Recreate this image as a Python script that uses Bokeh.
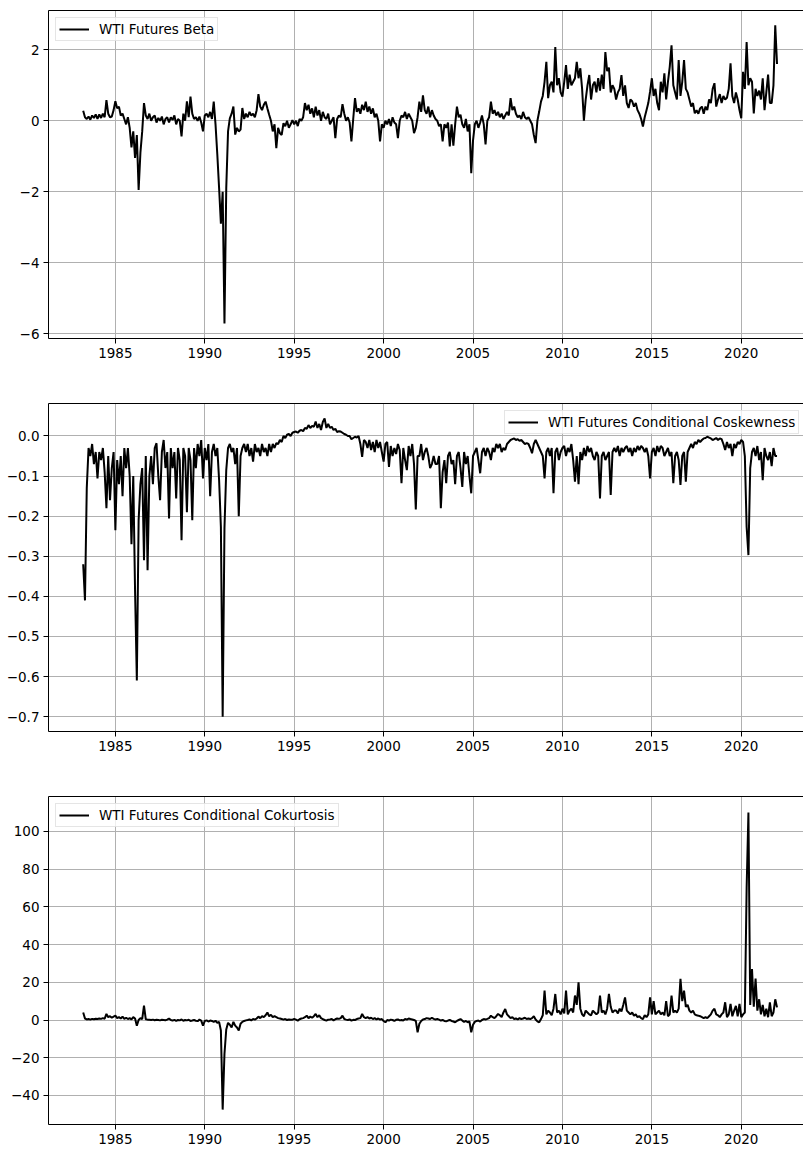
import numpy as np
from bokeh.plotting import figure
from bokeh.layouts import column
from bokeh.models import (Range1d, FixedTicker, CustomJSTickFormatter, LinearAxis,
                          Legend, LegendItem)
from bokeh.embed import file_html
from bokeh.resources import INLINE

# observations every 0.1 year, 1983.2 .. 2022.0
start_year = 1983.2
step = 0.1

beta = [
    0.28, 0.10, 0.05, 0.12, 0.03, 0.15, 0.08, 0.18,                      # 1983
    0.05, 0.18, 0.08, 0.20, 0.10, 0.58, 0.20, 0.10, 0.12, 0.30,          # 1984
    0.55, 0.35, 0.40, 0.15, 0.20, 0.05, -0.10, 0.10, -0.20, -0.75,       # 1985
    -0.30, -1.05, -0.40, -1.95, -0.90, -0.30, 0.50, 0.15, 0.05, 0.20,    # 1986
    0.00, 0.10, 0.15, -0.05, 0.08, 0.00, 0.12, -0.10, 0.05, 0.10,        # 1987
    -0.05, 0.10, 0.02, 0.15, -0.10, 0.05, 0.00, -0.44, 0.20, 0.00,       # 1988
    0.55, 0.10, 0.68, 0.20, 0.05, 0.10, 0.00, 0.12, -0.05, -0.30,        # 1989
    0.15, 0.20, 0.10, 0.25, 0.05, 0.54, -0.10, -0.95, -1.90, -2.90,      # 1990
    -2.00, -5.72, -1.90, -0.30, 0.07, 0.20, 0.40, -0.39, -0.20, -0.30,   # 1991
    -0.25, 0.36, 0.05, 0.20, 0.10, 0.25, 0.15, 0.20, 0.10, 0.30,         # 1992
    0.75, 0.40, 0.30, 0.45, 0.54, 0.35, 0.17, 0.00, -0.30, -0.10,        # 1993
    -0.77, -0.20, -0.35, -0.40, -0.07, -0.15, 0.00, -0.20, -0.10, 0.02,  # 1994
    -0.10, 0.00, -0.15, 0.05, 0.00, 0.10, 0.50, 0.30, 0.45, 0.20,        # 1995
    0.35, 0.10, 0.40, 0.15, 0.30, 0.00, 0.25, 0.10, 0.05, 0.20,          # 1996
    -0.10, 0.00, 0.10, -0.49, 0.05, 0.15, 0.10, 0.47, 0.20, 0.00,        # 1997
    0.10, -0.05, -0.58, 0.05, 0.64, 0.25, 0.35, 0.20, 0.45, 0.30,        # 1998
    0.54, 0.25, 0.40, 0.20, 0.35, 0.10, 0.20, 0.00, -0.58, -0.10,        # 1999
    -0.20, 0.00, -0.10, 0.05, -0.15, 0.10, -0.05, -0.10, -0.49, 0.00,    # 2000
    0.15, 0.10, 0.25, 0.05, 0.20, 0.10, 0.00, -0.35, -0.20, 0.10,        # 2001
    0.54, 0.25, 0.72, 0.30, 0.20, 0.40, 0.10, 0.30, 0.15, 0.05,          # 2002
    0.00, -0.15, -0.10, -0.58, -0.10, -0.20, -0.05, -0.72, -0.10, -0.70, # 2003
    -0.10, 0.40, 0.10, 0.17, -0.10, -0.20, 0.05, -0.30, -0.10, -1.48,    # 2004
    -0.55, -0.10, 0.00, -0.20, -0.05, 0.15, -0.10, -0.67, 0.00, 0.10,    # 2005
    0.54, 0.20, 0.30, 0.15, 0.25, 0.10, 0.20, 0.05, 0.15, 0.25,          # 2006
    0.15, 0.64, 0.30, 0.40, 0.20, 0.10, 0.15, 0.05, 0.25, 0.10,          # 2007
    0.05, 0.10, 0.00, -0.10, -0.40, -0.63, 0.00, 0.26, 0.54, 0.70,       # 2008
    1.10, 1.66, 0.64, 1.00, 1.10, 0.80, 2.08, 1.00, 1.20, 0.80,          # 2009
    0.68, 1.10, 1.57, 0.90, 1.30, 1.00, 1.10, 1.20, 1.66, 1.20,          # 2010
    1.48, 0.90, 0.00, 0.60, 1.00, 1.29, 0.60, 1.00, 1.10, 0.80,          # 2011
    1.20, 0.85, 1.30, 0.90, 1.94, 1.40, 1.50, 0.80, 1.00, 0.90,          # 2012
    0.60, 0.80, 0.90, 1.29, 0.70, 1.00, 0.50, 0.36, 0.60, 0.55,          # 2013
    0.40, 0.50, 0.30, 0.20, 0.05, -0.16, 0.10, 0.30, 0.50, 0.82,         # 2014
    1.20, 0.70, 0.90, 0.50, 0.30, 1.10, 0.80, 1.34, 0.60, 1.10,          # 2015
    1.52, 2.13, 1.00, 0.80, 0.60, 1.71, 0.70, 1.10, 1.71, 0.90,          # 2016
    0.80, 0.60, 0.40, 0.50, 0.21, 0.30, 0.20, 0.35, 0.40, 0.20,          # 2017
    0.40, 0.30, 0.60, 0.50, 0.90, 1.06, 0.40, 0.60, 0.75, 0.50,          # 2018
    0.70, 0.60, 0.65, 0.90, 1.62, 0.70, 0.50, 0.80, 0.60, 0.30,          # 2019
    0.07, 1.38, 0.90, 2.22, 1.00, 1.20, 1.10, 0.21, 0.90, 0.70,          # 2020
    0.85, 0.60, 1.20, 0.30, 0.80, 1.30, 0.50, 0.50, 1.00, 2.69,          # 2021
    1.60,                                                                # 2022
]

coskew = [
    -0.32, -0.41, -0.13, -0.03, -0.05, -0.02, -0.07, -0.04,                        # 1983
    -0.106, -0.04, -0.06, -0.03, -0.09, -0.18, -0.05, -0.16, -0.08, -0.04,         # 1984
    -0.235, -0.06, -0.12, -0.05, -0.15, -0.03, -0.08, -0.03, -0.10, -0.27,         # 1985
    -0.10, -0.385, -0.61, -0.21, -0.12, -0.08, -0.31, -0.05, -0.335, -0.10,        # 1986
    -0.05, -0.12, -0.03, -0.018, -0.10, -0.16, -0.04, -0.01, -0.08, -0.04,         # 1987
    -0.206, -0.03, -0.08, -0.04, -0.156, -0.03, -0.06, -0.26, -0.03, -0.05,        # 1988
    -0.19, -0.03, -0.06, -0.21, -0.03, -0.08, -0.02, -0.05, -0.01, -0.106,         # 1989
    -0.03, -0.06, -0.02, -0.15, -0.04, -0.02, -0.05, -0.03, -0.11, -0.227,         # 1990
    -0.70, -0.23, -0.085, -0.03, -0.02, -0.04, -0.03, -0.07, -0.03, -0.20,         # 1991
    -0.05, -0.03, -0.02, -0.04, -0.02, -0.05, -0.03, -0.064, -0.02, -0.04,         # 1992
    -0.03, -0.05, -0.02, -0.04, -0.03, -0.05, -0.02, -0.04, -0.02, -0.03,          # 1993
    -0.018, -0.02, -0.01, -0.015, 0.0, -0.005, 0.003, 0.005, 0.0, 0.008,           # 1994
    0.010, 0.011, 0.008, 0.013, 0.015, 0.012, 0.020, 0.018, 0.027, 0.020,          # 1995
    0.025, 0.023, 0.036, 0.020, 0.030, 0.015, 0.035, 0.044, 0.020, 0.030,          # 1996
    0.020, 0.023, 0.015, 0.018, 0.010, 0.012, 0.011, 0.008, 0.005, 0.003,          # 1997
    0.0, 0.0, -0.008, -0.005, -0.002, -0.004, 0.0, -0.02, -0.052, -0.01,           # 1998
    -0.015, -0.03, -0.01, -0.035, -0.015, -0.04, -0.01, -0.03, -0.015, -0.04,      # 1999
    -0.064, -0.02, -0.015, -0.077, -0.025, -0.05, -0.03, -0.045, -0.02, -0.035,    # 2000
    -0.118, -0.03, -0.06, -0.085, -0.025, -0.05, -0.02, -0.07, -0.183, -0.05,      # 2001
    -0.05, -0.02, -0.06, -0.04, -0.03, -0.05, -0.08, -0.07, -0.05, -0.07,          # 2002
    -0.07, -0.05, -0.18, -0.09, -0.06, -0.118, -0.05, -0.04, -0.07, -0.06,         # 2003
    -0.12, -0.05, -0.04, -0.08, -0.127, -0.04, -0.07, -0.05, -0.10, -0.143,        # 2004
    -0.05, -0.04, -0.03, -0.06, -0.093, -0.04, -0.03, -0.05, -0.03, -0.04,         # 2005
    -0.06, -0.03, -0.04, -0.02, -0.03, -0.02, -0.04, -0.03, -0.035, -0.02,         # 2006
    -0.015, -0.01, -0.008, -0.006, -0.01, -0.008, -0.012, -0.01, -0.015, -0.02,    # 2007
    -0.018, -0.02, -0.03, -0.043, -0.02, -0.01, -0.02, -0.03, -0.04, -0.05,        # 2008
    -0.106, -0.04, -0.03, -0.05, -0.03, -0.143, -0.04, -0.03, -0.06, -0.04,        # 2009
    -0.03, -0.025, -0.05, -0.03, -0.04, -0.02, -0.06, -0.114, -0.05, -0.12,        # 2010
    -0.04, -0.06, -0.03, -0.05, -0.025, -0.04, -0.03, -0.05, -0.06, -0.04,         # 2011
    -0.05, -0.156, -0.05, -0.04, -0.06, -0.05, -0.04, -0.147, -0.04, -0.03,        # 2012
    -0.04, -0.025, -0.05, -0.03, -0.04, -0.03, -0.025, -0.04, -0.03, -0.05,        # 2013
    -0.03, -0.04, -0.025, -0.035, -0.025, -0.03, -0.04, -0.03, -0.05, -0.106,      # 2014
    -0.04, -0.03, -0.05, -0.025, -0.04, -0.025, -0.03, -0.05, -0.04, -0.03,        # 2015
    -0.05, -0.04, -0.118, -0.05, -0.04, -0.06, -0.122, -0.05, -0.04, -0.114,       # 2016
    -0.04, -0.03, -0.02, -0.03, -0.015, -0.02, -0.01, -0.015, -0.01, -0.006,       # 2017
    -0.005, -0.002, -0.004, -0.006, -0.01, -0.008, -0.005, -0.01, -0.006, -0.008,  # 2018
    -0.02, -0.035, -0.015, -0.03, -0.02, -0.05, -0.02, -0.03, -0.015, -0.02,       # 2019
    -0.01, -0.015, -0.05, -0.227, -0.297, -0.08, -0.04, -0.03, -0.05, -0.025,      # 2020
    -0.06, -0.04, -0.11, -0.03, -0.05, -0.06, -0.04, -0.075, -0.03, -0.05,         # 2021
    -0.05,                                                                         # 2022
]

cokurt = [
    4.0, 0.8, 0.3, 0.5, 0.2, 0.6, 0.4, 0.7,                        # 1983
    0.5, 0.8, 0.6, 1.0, 0.7, 3.2, 1.5, 2.0, 1.2, 1.8,              # 1984
    2.3, 1.0, 1.5, 0.8, 1.8, 0.6, 1.2, 0.5, 1.0, 0.3,              # 1985
    1.5, 0.8, -3.0, 0.0, 1.0, 0.5, 7.6, 0.4, 0.2, 0.1,             # 1986
    0.0, 0.2, -0.1, 0.1, 0.0, -0.2, 0.1, 0.0, -0.1, 0.2,           # 1987
    0.8, 0.0, -0.3, 0.1, -0.5, 0.0, -0.2, 0.3, -0.4, 0.0,          # 1988
    -0.2, 0.1, -0.5, -0.3, 0.0, -0.4, -0.6, 0.2, -0.3, -3.0,       # 1989
    -0.5, -0.2, -0.8, -0.3, -0.5, -1.0, -0.4, -1.5, -1.0, -5.6,    # 1990
    -47.5, -18.0, -5.0, -1.5, -2.5, -4.0, -1.0, -3.0, -4.0, -5.6,  # 1991
    -2.0, -1.0, -0.5, -0.2, 0.0, 0.3, -0.2, 0.5, 0.2, 0.8,         # 1992
    1.8, 1.0, 2.0, 1.5, 2.5, 4.0, 2.0, 2.8, 1.5, 2.0,              # 1993
    1.5, 1.0, 0.8, 0.5, 0.2, 0.5, 0.0, 0.3, 0.1, 0.2,              # 1994
    0.5, 0.2, -0.3, 0.4, 0.8, 1.0, 1.5, 2.3, 1.0, 1.8,             # 1995
    1.2, 2.0, 3.2, 1.5, 2.5, 1.0, 0.5, 0.0, -0.3, 0.2,             # 1996
    0.3, 0.5, -0.2, 0.4, 0.8, 0.6, 1.0, 2.3, 0.5, 0.2,             # 1997
    0.0, 0.3, -0.3, 0.1, 0.0, 0.5, 0.8, 1.0, 3.2, 1.5,             # 1998
    1.0, 1.5, 0.8, 1.2, 0.5, 1.0, 0.3, 0.8, 0.2, 0.5,              # 1999
    -0.5, -1.2, 0.0, -0.3, 0.2, 0.0, -0.5, 0.1, 0.3, -0.2,         # 2000
    0.0, -0.3, 0.5, 0.2, 0.8, 0.5, 0.3, 0.0, -0.5, -6.5,           # 2001
    -2.0, -0.5, 0.3, 0.5, 1.0, 0.8, 0.5, 1.2, 0.6, 0.3,            # 2002
    0.5, 0.2, -0.3, 0.0, -0.5, -0.7, -0.3, 0.0, -0.5, -0.8,        # 2003
    -1.2, -0.5, 0.0, 0.5, -0.3, -1.0, -0.5, -1.2, -0.8, -6.5,      # 2004
    -2.5, -1.0, -0.5, -0.3, -0.8, 0.0, 0.5, 0.3, 0.6, 1.0,         # 2005
    2.3, 1.5, 1.0, 2.0, 3.2, 2.5, 1.5, 4.0, 5.8, 3.0,              # 2006
    2.0, 1.0, 1.5, 0.5, 0.8, 0.3, 1.0, 0.5, 0.8, 1.2,              # 2007
    0.5, 0.8, 0.5, 1.0, 2.0, 0.3, -0.7, -1.2, 0.5, 2.5,            # 2008
    15.6, 3.0, 5.0, 4.0, 2.5, 6.0, 13.8, 4.0, 5.0, 3.0,            # 2009
    6.0, 3.5, 15.6, 3.0, 5.0, 6.0, 4.0, 13.0, 8.0, 20.0,           # 2010
    6.0, 3.0, 2.0, 5.0, 4.0, 3.0, 2.5, 5.0, 4.0, 3.0,              # 2011
    4.0, 13.0, 4.0, 5.0, 3.0, 6.0, 13.8, 7.0, 4.0, 5.0,            # 2012
    5.0, 3.5, 6.0, 4.5, 8.0, 12.0, 5.0, 4.0, 3.0, 4.0,             # 2013
    2.3, 3.0, 1.5, 2.0, 1.0, 0.5, 2.5, 1.5, 3.0, 12.0,             # 2014
    3.0, 10.0, 3.0, 4.0, 5.0, 3.0, 4.0, 2.5, 10.0, 2.0,            # 2015
    3.0, 13.0, 4.0, 5.0, 4.0, 6.0, 21.8, 10.0, 15.6, 7.0,          # 2016
    8.0, 5.0, 4.0, 5.0, 3.0, 2.5, 2.3, 2.0, 1.5, 1.0,              # 2017
    1.5, 1.0, 2.0, 3.0, 5.0, 6.0, 3.0, 2.5, 1.5, 3.0,              # 2018
    4.0, 9.4, 1.5, 3.0, 8.5, 2.0, 5.0, 7.5, 2.0, 8.5,              # 2019
    1.5, 3.0, 4.0, 70.0, 110.0, 8.0, 27.0, 7.0, 22.0, 5.0,         # 2020
    11.0, 3.0, 8.0, 2.0, 6.0, 1.5, 9.4, 2.0, 4.0, 11.0,            # 2021
    6.7,                                                           # 2022
]

labels = ["WTI Futures Beta", "WTI Futures Conditional Coskewness",
          "WTI Futures Conditional Cokurtosis"]
x_ticks = [1985, 1990, 1995, 2000, 2005, 2010, 2015, 2020]
beta_ticks = [-6, -4, -2, 0, 2]
coskew_ticks = [-0.7, -0.6, -0.5, -0.4, -0.3, -0.2, -0.1, 0.0]
cokurt_ticks = [-40, -20, 0, 20, 40, 60, 80, 100]

assert len(beta) == len(coskew) == len(cokurt)
years = np.round(start_year + step * np.arange(len(beta)), 2)

FONT = "DejaVu Sans"
FS = "13.5px"
W = 803


def fmt(decimals):
    return CustomJSTickFormatter(code="""
        const s = tick.toFixed(%d);
        return tick < 0 ? '\\u2212' + s.slice(1) : s;
    """ % decimals)


def make_panel(values, label, yrange, yticks, decimals, height, top_b, bottom_b, legend_loc):
    p = figure(width=W, height=height,
               x_range=Range1d(1981.26, 2023.48), y_range=Range1d(*yrange),
               output_backend="svg", toolbar_location=None,
               min_border_left=48, min_border_right=0,
               min_border_top=top_b, min_border_bottom=bottom_b)
    p.outline_line_color = None
    p.background_fill_color = "white"
    p.border_fill_color = "white"

    r = p.line(years, values, line_color="black", line_width=2.0)

    xa = p.below[0]
    xa.ticker = FixedTicker(ticks=x_ticks)
    xa.formatter = fmt(0)
    ya = p.left[0]
    ya.ticker = FixedTicker(ticks=yticks)
    ya.formatter = fmt(decimals)
    for ax in (xa, ya):
        ax.axis_line_color = "black"
        ax.axis_line_width = 1
        ax.major_tick_line_color = "black"
        ax.major_tick_line_width = 1
        ax.major_tick_out = 5
        ax.major_tick_in = 0
        ax.minor_tick_line_color = None
        ax.major_label_text_font = FONT
        ax.major_label_text_font_size = FS
        ax.major_label_text_color = "black"
        ax.major_label_standoff = 4

    top = LinearAxis(ticker=FixedTicker(ticks=[]), axis_line_color="black",
                     axis_line_width=1, major_tick_line_color=None,
                     minor_tick_line_color=None, major_tick_out=0, major_tick_in=0,
                     major_label_standoff=0)
    p.add_layout(top, "above")

    for g in (p.xgrid[0], p.ygrid[0]):
        g.grid_line_color = "#b0b0b0"
        g.grid_line_width = 1

    leg = Legend(items=[LegendItem(label=label, renderers=[r])],
                 location=legend_loc)
    leg.label_text_font = FONT
    leg.label_text_font_size = FS
    leg.label_text_color = "black"
    leg.glyph_width = 30
    leg.glyph_height = 14
    leg.label_height = 14
    leg.label_standoff = 10
    leg.padding = 3
    leg.spacing = 0
    leg.margin = 7
    leg.border_line_color = "#cccccc"
    leg.border_line_width = 1
    leg.background_fill_color = "white"
    leg.background_fill_alpha = 0.8
    p.add_layout(leg)
    return p


p1 = make_panel(beta, labels[0], (-6.14, 3.11), beta_ticks, 0, 402, 10, 64, "top_left")
p2 = make_panel(coskew, labels[1], (-0.737, 0.081), coskew_ticks, 1, 393, 1, 64, (456, 297))
p3 = make_panel(cokurt, labels[2], (-55.4, 118.5), cokurt_ticks, 0, 354, 1, 25, "top_left")

layout = column(p1, p2, p3, spacing=0)
open("out.html", "w").write(file_html(layout, INLINE))
